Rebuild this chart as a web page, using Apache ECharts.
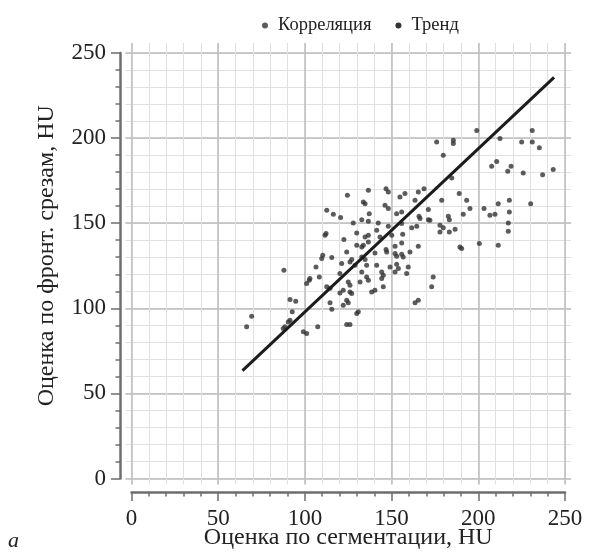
<!DOCTYPE html>
<html><head><meta charset="utf-8">
<script src="https://cdn.jsdelivr.net/npm/echarts@6/dist/echarts.min.js"></script>
<style>html,body{margin:0;padding:0;background:#fff}#c{width:598px;height:554px}</style>
</head><body><div id="c"></div>
<script>
const seriesNames = ['Корреляция', 'Тренд'];
const xAxisTitle = 'Оценка по сегментации, HU';
const yAxisTitle = 'Оценка по фронт. срезам, HU';
const panelLabel = 'a';
const axisMin = 0, axisMax = 250, axisStep = 50;
// background grid extends a little beyond the labelled range
const gridXRange = [-3.5, 253.5];
const gridYRange = [-3.5, 255.9];

const corrPoints = [
[176.0,197.7],[185.6,198.7],[185.6,196.9],[179.8,189.9],[124.5,166.4],[136.6,169.3],[146.8,170.3],[148.1,168.3],[154.8,165.4],[157.7,167.4],[165.4,168.3],[168.7,170.3],[112.6,157.6],[116.4,155.2],[120.6,153.3],[133.7,162.5],[134.7,161.5],[146.2,160.5],[148.1,158.6],[137.1,155.6],[152.9,155.6],[155.8,156.6],[163.5,163.5],[171.2,158.0],[178.9,163.5],[165.8,154.1],[166.4,152.7],[171.2,152.1],[172.1,151.7],[182.7,154.1],[183.3,152.1],[189.0,167.4],[127.9,150.1],[132.8,152.1],[136.6,151.1],[142.3,150.1],[148.1,148.2],[155.8,149.8],[161.6,147.4],[164.5,148.2],[177.9,148.8],[179.8,147.4],[186.6,146.4],[112.2,143.9],[111.6,142.9],[129.9,144.3],[134.7,141.9],[136.6,142.9],[141.4,145.8],[143.3,141.9],[150.1,142.9],[156.4,143.5],[177.9,144.8],[183.3,144.8],[122.5,140.4],[129.9,137.0],[132.8,136.0],[133.7,137.0],[136.6,139.0],[146.8,134.5],[147.2,133.1],[152.0,136.5],[155.8,138.4],[165.4,136.5],[189.4,136.0],[110.3,131.2],[109.7,129.2],[115.5,129.8],[124.1,133.1],[127.0,128.6],[126.0,127.2],[132.8,130.2],[134.7,128.6],[140.4,132.5],[152.0,132.2],[152.9,130.6],[155.8,131.8],[156.7,130.2],[160.6,133.1],[106.4,124.3],[121.2,126.3],[128.9,125.3],[135.6,125.3],[141.4,125.3],[149.1,124.3],[152.9,125.9],[153.9,123.4],[159.6,124.3],[144.3,121.4],[145.2,119.4],[152.0,121.4],[158.7,120.4],[101.0,114.6],[102.5,116.5],[108.3,118.4],[120.2,120.4],[125.0,115.5],[126.0,113.6],[131.8,115.5],[135.6,118.4],[136.6,116.5],[144.3,117.5],[174.0,118.4],[112.6,112.6],[120.2,109.0],[122.1,110.6],[126.0,109.6],[127.0,108.7],[138.5,109.6],[140.4,110.6],[145.2,112.6],[173.1,112.6],[114.5,103.2],[124.1,104.8],[125.0,103.2],[163.5,103.2],[165.4,104.8],[122.1,101.8],[184.7,176.5],
[87.9,122.4],[69.3,95.4],[66.4,89.1],[91.4,105.2],[94.7,104.2],[92.7,97.9],[91.4,93.0],[90.4,92.0],[88.5,89.1],[87.5,88.2],[99.1,86.2],[101.0,85.2],[107.4,89.1],[124.1,90.5],[126.0,90.5],[115.5,99.5],[130.8,97.9],[129.9,97.0],[102.9,117.5],[114.5,111.8],[132.8,121.4],
[199.1,204.5],[212.5,199.7],[225.0,197.7],[231.1,204.5],[231.1,197.7],[235.2,194.4],[207.7,183.4],[210.6,186.3],[218.9,183.4],[217.0,180.5],[225.9,179.5],[237.1,178.5],[243.2,181.5],[203.3,158.6],[206.7,154.6],[209.6,155.2],[211.5,161.5],[217.9,163.5],[217.9,156.6],[217.3,150.1],[217.3,145.3],[230.2,161.5],[195.2,158.6],[191.3,155.2],[193.3,163.5],[190.4,135.1],[200.6,138.0],[211.5,137.0]
];
const trendX = [64, 243.7];
const trendY = [63.4, 235.7];

const FONT = 'Liberation Serif';
const chart = echarts.init(document.getElementById('c'), null, {renderer: 'canvas'});

const mainGrid = {left: 131.5, right: 33, top: 53, bottom: 75.5};
const pxX = 433.5 / 250, pxY = 426 / 250;
const bgGrid = {
  left: mainGrid.left + gridXRange[0] * pxX,
  right: mainGrid.right - (gridXRange[1] - axisMax) * pxX,
  top: mainGrid.top - (gridYRange[1] - axisMax) * pxY,
  bottom: mainGrid.bottom + gridYRange[0] * pxY
};

function labelAxis(isX, name, gap, nameStyle) {
  return {
    gridIndex: 0, type: 'value', min: axisMin, max: axisMax, interval: axisStep,
    offset: isX ? 13.5 : 11.5,
    axisLine: {show: true, onZero: false, lineStyle: {color: '#6e6e6e', width: 2.5}},
    axisTick: {show: true, inside: false, length: 9, lineStyle: {color: '#6e6e6e', width: 1.5}},
    minorTick: {show: true, splitNumber: 5, length: 4.5, lineStyle: {color: '#6e6e6e', width: 1.5}},
    axisLabel: {color: '#222', fontFamily: FONT, fontSize: 23, margin: isX ? 15 : 14},
    splitLine: {show: false},
    name: name, nameGap: gap, nameLocation: 'middle', nameMoveOverlap: false,
    nameTextStyle: Object.assign({color: '#222', fontFamily: FONT, fontSize: 24}, nameStyle || {}),
  };
}
function gridAxis(gi, range, split, color, width) {
  return {
    gridIndex: gi, type: 'value', min: range[0], max: range[1], splitNumber: split,
    axisLine: {show: false}, axisTick: {show: false}, axisLabel: {show: false},
    splitLine: {show: true, showMinLine: false, showMaxLine: false, lineStyle: {color: color, width: width}},
    silent: true
  };
}
const gridBase = {containLabel: false, outerBoundsMode: 'none'};

const option = {
  backgroundColor: '#fff',
  animation: false,
  textStyle: {fontFamily: FONT},
  legend: {
    data: seriesNames, left: 257, top: 11, icon: 'circle',
    itemWidth: 16, itemHeight: 6, itemGap: 24,
    textStyle: {fontFamily: FONT, fontSize: 18.5, color: '#222'}
  },
  grid: [
    Object.assign({}, gridBase, mainGrid),
    Object.assign({}, gridBase, bgGrid),
    Object.assign({}, gridBase, bgGrid)
  ],
  xAxis: [
    labelAxis(true, xAxisTitle, 34),
    gridAxis(1, gridXRange, 26, '#e0e0e0', 1),
    gridAxis(2, gridXRange, 5, '#bcbcbc', 1.5)
  ],
  yAxis: [
    labelAxis(false, yAxisTitle, 61, {fontSize: 24, padding: [0, 0, 0, 20]}),
    gridAxis(1, gridYRange, 26, '#e0e0e0', 1),
    gridAxis(2, gridYRange, 5, '#bcbcbc', 1.5)
  ],
  graphic: [{type: 'text', left: 8, top: 530, style: {text: panelLabel, font: 'italic 22px "Liberation Serif"', fill: '#222'}}],
  series: [
    {name: seriesNames[0], type: 'scatter', xAxisIndex: 0, yAxisIndex: 0, data: corrPoints, symbol: 'circle', symbolSize: 5,
     itemStyle: {color: '#333'}, z: 3},
    {name: seriesNames[1], type: 'line', xAxisIndex: 0, yAxisIndex: 0, data: trendX.map((x, i) => [x, trendY[i]]), symbol: 'none',
     lineStyle: {color: '#1c1c1c', width: 3}, itemStyle: {color: '#333'}, z: 4}
  ]
};
chart.setOption(option);
</script>
</body></html>
